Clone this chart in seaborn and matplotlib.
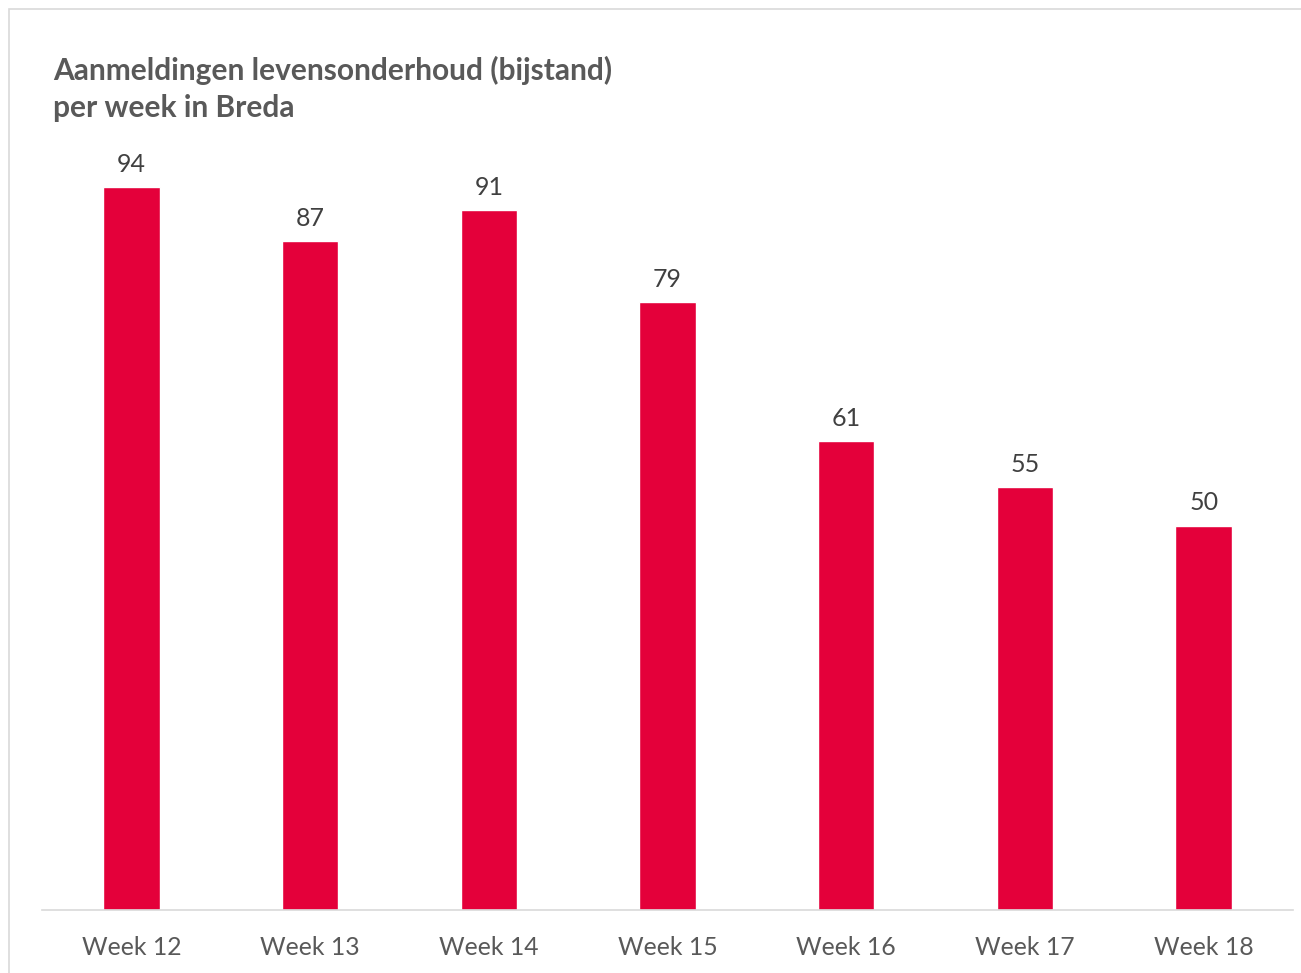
import matplotlib
matplotlib.use("Agg")
import matplotlib.pyplot as plt
import seaborn as sns
import pandas as pd
from matplotlib.patches import Rectangle

weeks = ["Week 12", "Week 13", "Week 14", "Week 15", "Week 16", "Week 17", "Week 18"]
values = [94, 87, 91, 79, 61, 55, 50]
title_lines = ["Aanmeldingen levensonderhoud (bijstand)", "per week in Breda"]

sns.set_theme(style="white")
plt.rcParams['font.family'] = ['Lato', 'DejaVu Sans']

W, H = 1301, 973
fig = plt.figure(figsize=(W / 100, H / 100), dpi=100)
fig.patch.set_facecolor("white")

# outer chart frame
fig.patches.append(Rectangle((9 / W, -0.05), 1.2, 1 - 9 / H + 0.05, transform=fig.transFigure,
                             fill=False, edgecolor="#D9D9D9", linewidth=1.2))

ax = fig.add_axes([42 / W, (H - 910) / H, (1293 - 42) / W, (910 - 141) / H])
df = pd.DataFrame({"week": weeks, "value": values})
sns.barplot(data=df, x="week", y="value", color="#E4003A", saturation=1, width=0.315, ax=ax)
ax.set_ylim(0, 100)
ax.set_xlim(-0.5, len(weeks) - 0.5)
ax.set_xlabel("")
ax.set_ylabel("")
ax.set_yticks([])
for s in ["top", "right", "left"]:
    ax.spines[s].set_visible(False)
ax.spines["bottom"].set_color("#D9D9D9")
ax.spines["bottom"].set_linewidth(1.2)
ax.tick_params(axis="x", length=0, pad=19, labelsize=17.8, labelcolor="#595959")
for c in ax.containers:
    ax.bar_label(c, padding=8, fontsize=18, color="#404040")

fig.text(53 / W, 1 - 80 / H, title_lines[0], ha="left", va="baseline", fontsize=21.5,
         fontweight="bold", color="#595959")
fig.text(53 / W, 1 - 117 / H, title_lines[1], ha="left", va="baseline", fontsize=21.5,
         fontweight="bold", color="#595959")

fig.savefig("out.png", dpi=100)
